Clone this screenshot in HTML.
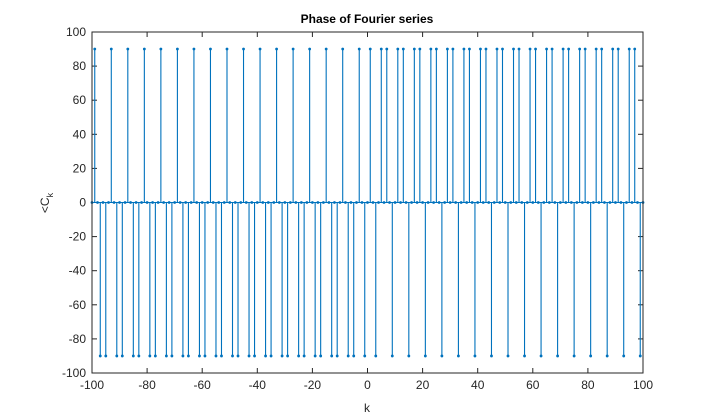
<!DOCTYPE html>
<html><head><meta charset="utf-8"><style>
body{margin:0;background:#fff;}
svg{display:block;font-family:"Liberation Sans",Arial,sans-serif;}
</style></head><body>
<svg id="chart" width="711" height="420" viewBox="0 0 711 420">
<rect x="0" y="0" width="711" height="420" fill="#fff"/>
<text x="367" y="23" text-anchor="middle" font-size="12" font-weight="bold" fill="#000">Phase of Fourier series</text>
<text x="367" y="412" text-anchor="middle" font-size="12" fill="#262626">k</text>
<text transform="translate(49,203) rotate(-90)" text-anchor="middle" font-size="12" fill="#262626">&lt;C<tspan font-size="9" dy="4">k</tspan></text>
<g id="ticks"></g>
<g id="stems"></g>
<rect x="92" y="32" width="551" height="341" fill="none" stroke="#262626" stroke-width="1"/>
</svg>
<script>
const kMin = -100, kMax = 100;
const xTicks = [-100,-80,-60,-40,-20,0,20,40,60,80,100];
const yTicks = [-100,-80,-60,-40,-20,0,20,40,60,80,100];
const phases = [
0,90,0,-90,0,-90, 0,90,0,-90,0,-90, 0,90,0,-90,0,-90, 0,90,0,-90,0,-90,
0,90,0,-90,0,-90, 0,90,0,-90,0,-90, 0,90,0,-90,0,-90, 0,90,0,-90,0,-90,
0,90,0,-90,0,-90, 0,90,0,-90,0,-90, 0,90,0,-90,0,-90, 0,90,0,-90,0,-90,
0,90,0,-90,0,-90, 0,90,0,-90,0,-90, 0,90,0,-90,0,-90, 0,90,0,-90,0,-90,
0,90,0,-90,
0,
90,0,-90,0,90,0, 90,0,-90,0,90,0, 90,0,-90,0,90,0, 90,0,-90,0,90,0,
90,0,-90,0,90,0, 90,0,-90,0,90,0, 90,0,-90,0,90,0, 90,0,-90,0,90,0,
90,0,-90,0,90,0, 90,0,-90,0,90,0, 90,0,-90,0,90,0, 90,0,-90,0,90,0,
90,0,-90,0,90,0, 90,0,-90,0,90,0, 90,0,-90,0,90,0, 90,0,-90,0,90,0,
90,0,-90,0
];
const NS = "http://www.w3.org/2000/svg";
const L = 92, R = 643, T = 32, B = 373;
function xs(v){ return L + (v - kMin) / (kMax - kMin) * (R - L); }
function ys(v){ return B - (v + 100) / 200 * (B - T); }
function mk(tag, attrs){ const e = document.createElementNS(NS, tag); for (const a in attrs) e.setAttribute(a, attrs[a]); return e; }
const tg = document.getElementById('ticks');
xTicks.forEach(t => {
  const x = xs(t);
  const l1 = mk('line', {x1:x, x2:x, y1:B, y2:B-5, stroke:'#262626'});
  
  
  tg.appendChild(l1);
  const l2 = mk('line', {x1:x, x2:x, y1:T, y2:T+5, stroke:'#262626'});
  
  
  tg.appendChild(l2);
  const tx = mk('text', {x:x, y:B+16, 'text-anchor':'middle', 'font-size':'12', fill:'#262626'});
  tx.textContent = t;
  
  
  tg.appendChild(tx);
});
yTicks.forEach(t => {
  const y = ys(t);
  const l1 = mk('line', {x1:L, x2:L+5, y1:y, y2:y, stroke:'#262626'});
  
  
  tg.appendChild(l1);
  const l2 = mk('line', {x1:R, x2:R-5, y1:y, y2:y, stroke:'#262626'});
  
  
  tg.appendChild(l2);
  const tx = mk('text', {x:L-6, y:y+4, 'text-anchor':'end', 'font-size':'12', fill:'#262626'});
  tx.textContent = t;
  
  
  tg.appendChild(tx);
});
const sg = document.getElementById('stems');
const base = mk('line', {x1:xs(kMin), x2:xs(kMax), y1:ys(0), y2:ys(0), stroke:'#0072BD', 'stroke-width':'1'});


sg.appendChild(base);
phases.forEach((p, i) => {
  const k = kMin + i;
  const x = xs(k);
  if (p !== 0) {
    const ln = mk('line', {x1:x, x2:x, y1:ys(0), y2:ys(p), stroke:'#0072BD', 'stroke-width':'1.1'});
    
    
    sg.appendChild(ln);
  }
  const c = mk('circle', {cx:x, cy:ys(p), r:1.4, fill:'#0072BD'});
  
  
  sg.appendChild(c);
});
</script>
</body></html>
